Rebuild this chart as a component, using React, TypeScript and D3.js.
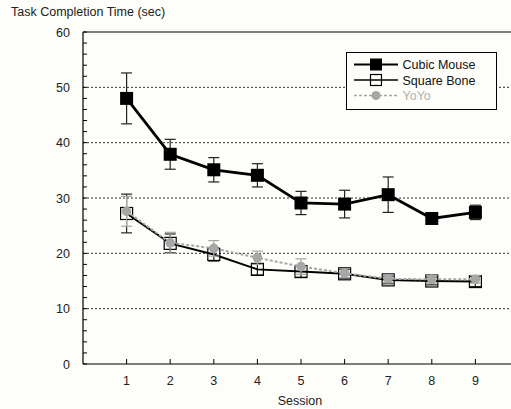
import React from "react";
import * as d3 from "d3";

const sessions = [1, 2, 3, 4, 5, 6, 7, 8, 9];
const cubicMean = [48.0, 37.9, 35.1, 34.1, 29.1, 28.9, 30.6, 26.3, 27.4];
const cubicErr = [4.6, 2.7, 2.2, 2.1, 2.1, 2.5, 3.2, 0.6, 1.3];
const boneMean = [27.2, 21.8, 19.8, 17.1, 16.7, 16.3, 15.2, 15.0, 14.9];
const boneErr = [3.5, 1.7, 1.2, 1.0, 1.0, 0.8, 0.7, 0.7, 0.9];
const yoyoMean = [27.6, 21.9, 20.9, 19.2, 17.6, 16.4, 15.4, 15.3, 15.3];
const yoyoErr = [2.7, 1.9, 1.4, 1.2, 1.4, 0.8, 0.7, 0.7, 0.7];
const yTicks = [0, 10, 20, 30, 40, 50, 60];
const yMinor = d3.range(0, 61, 2);
const gridValues = [10, 20, 30, 40, 50];
const legendNames = ["Cubic Mouse", "Square Bone", "YoYo"];

const W = 511;
const H = 409;
const FONT = "Liberation Sans, Arial, sans-serif";

export default function App() {
  const x = d3.scaleLinear().domain([0, 10]).range([83, 519]);
  const y = d3.scaleLinear().domain([0, 60]).range([364, 32]);
  const line = d3
    .line<number>()
    .x((_, i) => x(sessions[i]))
    .y((d) => y(d));

  const errBars = (mean: number[], err: number[], color: string, key: string) =>
    mean.map((m, i) => {
      const cx = x(sessions[i]);
      const y1 = y(m + err[i]);
      const y2 = y(m - err[i]);
      return (
        <g key={key + i} stroke={color} strokeWidth={1.2}>
          <line x1={cx} x2={cx} y1={y1} y2={y2} />
          <line x1={cx - 5.5} x2={cx + 5.5} y1={y1} y2={y1} />
          <line x1={cx - 5.5} x2={cx + 5.5} y1={y2} y2={y2} />
        </g>
      );
    });

  const gray = "#a6a6a6";

  return (
    <svg
      width={W}
      height={H}
      style={{ position: "absolute", left: 0, top: 0, background: "#fdfdf9" }}
      fontFamily={FONT}
    >
      <rect x={0} y={0} width={W} height={H} fill="#fdfdf9" />
      <text x={11} y={16} fontSize={12.5} fill="#222">
        Task Completion Time (sec)
      </text>

      {gridValues.map((v) => (
        <line
          key={"g" + v}
          x1={x(0)}
          x2={x(10)}
          y1={y(v)}
          y2={y(v)}
          stroke="#333"
          strokeWidth={1}
          strokeDasharray="2,2"
        />
      ))}

      {/* frame */}
      <line x1={x(0)} x2={x(10)} y1={y(60)} y2={y(60)} stroke="#000" strokeWidth={1.2} />
      <line x1={x(0)} x2={x(0)} y1={y(60)} y2={y(0)} stroke="#000" strokeWidth={1.2} />
      <line x1={x(0)} x2={x(10)} y1={y(0)} y2={y(0)} stroke="#000" strokeWidth={1.2} />

      {yMinor.map((v) => (
        <line key={"ym" + v} x1={x(0)} x2={x(0) + 4} y1={y(v)} y2={y(v)} stroke="#000" />
      ))}
      {yTicks.map((v) => (
        <text
          key={"yt" + v}
          x={70}
          y={y(v) + 4.5}
          textAnchor="end"
          fontSize={12.5}
          fill="#222"
        >
          {v}
        </text>
      ))}
      {sessions.map((s) => (
        <g key={"xt" + s}>
          <line x1={x(s)} x2={x(s)} y1={y(0)} y2={y(0) - 5} stroke="#000" />
          <text x={x(s)} y={y(0) + 21} textAnchor="middle" fontSize={12.5} fill="#222">
            {s}
          </text>
        </g>
      ))}
      <text x={300} y={405} textAnchor="middle" fontSize={12.5} fill="#222">
        Session
      </text>

      {/* Cubic Mouse */}
      {errBars(cubicMean, cubicErr, "#222", "ce")}
      <path d={line(cubicMean) || ""} fill="none" stroke="#000" strokeWidth={2.8} />
      {cubicMean.map((m, i) => (
        <rect
          key={"cm" + i}
          x={x(sessions[i]) - 6.5}
          y={y(m) - 6.5}
          width={13}
          height={13}
          fill="#000"
        />
      ))}

      {/* Square Bone */}
      {errBars(boneMean, boneErr, "#222", "be")}
      <path d={line(boneMean) || ""} fill="none" stroke="#000" strokeWidth={2} />
      {boneMean.map((m, i) => (
        <rect
          key={"bm" + i}
          x={x(sessions[i]) - 6}
          y={y(m) - 6}
          width={12}
          height={12}
          fill="none"
          stroke="#000"
          strokeWidth={1.2}
        />
      ))}

      {/* YoYo */}
      {errBars(yoyoMean, yoyoErr, gray, "ye")}
      <path
        d={line(yoyoMean) || ""}
        fill="none"
        stroke={gray}
        strokeWidth={2}
        strokeDasharray="3,2"
      />
      {yoyoMean.map((m, i) => (
        <circle key={"ym" + i} cx={x(sessions[i])} cy={y(m)} r={4.8} fill={gray} />
      ))}

      {/* legend */}
      <rect x={346.5} y={52.5} width={150} height={57} fill="#fdfdf9" stroke="#000" strokeWidth={1} />
      {legendNames.map((name, i) => {
        const ly = 64.5 + i * 15.5;
        return (
          <g key={"lg" + i}>
            {i === 0 && (
              <>
                <line x1={354} x2={398} y1={ly} y2={ly} stroke="#000" strokeWidth={2} />
                <rect x={370} y={ly - 6} width={12} height={12} fill="#000" />
              </>
            )}
            {i === 1 && (
              <>
                <line x1={354} x2={398} y1={ly} y2={ly} stroke="#000" strokeWidth={1.5} />
                <rect
                  x={370.5}
                  y={ly - 5.5}
                  width={11}
                  height={11}
                  fill="none"
                  stroke="#000"
                  strokeWidth={1.2}
                />
              </>
            )}
            {i === 2 && (
              <>
                <line
                  x1={354}
                  x2={398}
                  y1={ly}
                  y2={ly}
                  stroke={gray}
                  strokeWidth={1.5}
                  strokeDasharray="3,2"
                />
                <circle cx={376} cy={ly} r={4.5} fill={gray} />
              </>
            )}
            <text x={402.5} y={ly + 4.5} fontSize={12.5} fill={i === 2 ? "#b0b0b0" : "#111"}>
              {name}
            </text>
          </g>
        );
      })}
    </svg>
  );
}
